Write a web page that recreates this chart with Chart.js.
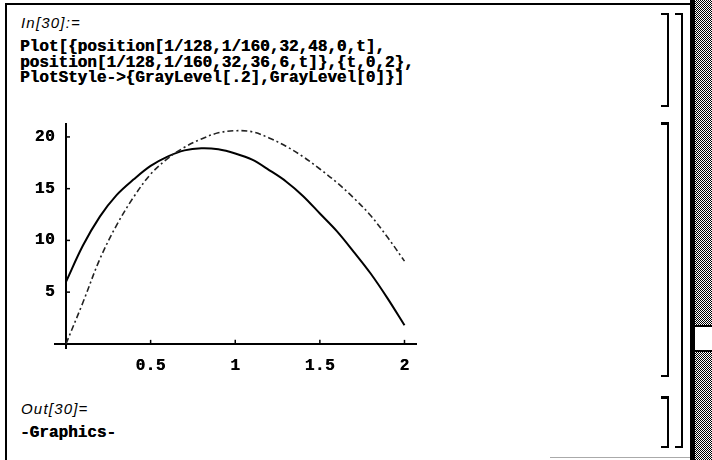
<!DOCTYPE html>
<html>
<head>
<meta charset="utf-8">
<script src="https://cdn.jsdelivr.net/npm/chart.js@4/dist/chart.umd.min.js"></script>
<style>
  html, body { margin:0; padding:0; background:#fff; }
  #page { position:relative; width:712px; height:460px; overflow:hidden; background:#fff; }
  .abs { position:absolute; }
  .lbl { font-family:"Liberation Sans", sans-serif; font-style:italic; font-size:15px; letter-spacing:1.2px; color:#000; }
  .code { font-family:"Liberation Mono", monospace; font-weight:bold; font-size:16px; color:#000; line-height:15.5px; white-space:pre; text-shadow:0.4px 0 0 #000; }
  .vline { position:absolute; background:#000; }
  .hline { position:absolute; background:#000; }
  #scroll { position:absolute; left:695px; top:0; width:17px; height:460px;
    background: repeating-conic-gradient(#000 0 25%, #fff 0 50%) 0 0/2px 2px; }
  #thumb { position:absolute; left:695px; top:325px; width:17px; height:27px; background:#fff; border-top:2px solid #000; border-bottom:2px solid #000; box-sizing:border-box; }
  canvas { position:absolute; left:0; top:0; }
</style>
</head>
<body>
<div id="page">
  <!-- window frame -->
  <div class="hline" style="left:5px; top:3px; width:686px; height:2px;"></div>
  <div class="vline" style="left:5px; top:3px; width:2px; height:457px;"></div>
  <div class="vline" style="left:690px; top:0; width:5px; height:460px;"></div>
  <div id="scroll"></div>
  <div id="thumb"></div>
  <div class="hline" style="left:550px; top:457px; width:140px; height:1px; background:#aaa;"></div>

  <!-- input cell -->
  <div class="abs lbl" style="left:21px; top:14px;">In[30]:=</div>
  <div class="abs code" style="left:20px; top:40px;">Plot[{position[1/128,1/160,32,48,0,t],
position[1/128,1/160,32,36,6,t]},{t,0,2},
PlotStyle->{GrayLevel[.2],GrayLevel[0]}]</div>

  <!-- output cell -->
  <div class="abs lbl" style="left:21px; top:400px;">Out[30]=</div>
  <div class="abs code" style="left:20px; top:426px;">-Graphics-</div>

  <!-- cell brackets -->
  <div class="vline" style="left:667px; top:13px; width:2px; height:94px;"></div>
  <div class="hline" style="left:661px; top:13px; width:8px; height:2px;"></div>
  <div class="hline" style="left:661px; top:105px; width:8px; height:2px;"></div>

  <div class="vline" style="left:667px; top:122px; width:2px; height:255px;"></div>
  <div class="hline" style="left:661px; top:122px; width:8px; height:3px;"></div>
  <div class="hline" style="left:661px; top:375px; width:8px; height:2px;"></div>

  <div class="vline" style="left:667px; top:396px; width:2px; height:52px;"></div>
  <div class="hline" style="left:661px; top:396px; width:8px; height:3px;"></div>
  <div class="hline" style="left:661px; top:446px; width:8px; height:2px;"></div>

  <div class="vline" style="left:681px; top:13px; width:2px; height:435px;"></div>
  <div class="hline" style="left:675px; top:13px; width:8px; height:2px;"></div>
  <div class="hline" style="left:675px; top:446px; width:8px; height:2px;"></div>

  <canvas id="c" width="712" height="460"></canvas>
</div>
<script>
// ---- data ----
const tValues = [0,0.1,0.2,0.3,0.4,0.5,0.6,0.7,0.8,0.9,1.0,1.1,1.2,1.3,1.4,1.5,1.6,1.7,1.8,1.9,2.0];
const angle48Values = [0,4.0,8.2,11.5,14.2,16.4,17.9,19.0,19.8,20.4,20.6,20.5,19.9,19.1,18.1,16.9,15.6,14.1,12.4,10.3,8.0];
const angle36Values = [6.0,9.5,12.3,14.4,15.9,17.2,18.1,18.7,18.9,18.8,18.4,17.8,16.8,15.7,14.3,12.6,10.9,8.9,6.8,4.4,1.8];
const xTickValues = [0.5,1,1.5,2];
const xTickLabels = ["0.5","1","1.5","2"];
const yTickValues = [5,10,15,20];
const yTickLabels = ["5","10","15","20"];

const toPts = (ys) => tValues.map((t,i) => ({x:t, y:ys[i]}));

// tick marks and tick labels drawn through the chart's own scales
const axisDecor = {
  id:'axisDecor',
  afterDraw(chart){
    const {ctx, scales:{x, y}} = chart;
    const x0 = x.getPixelForValue(0), y0 = y.getPixelForValue(0);
    ctx.save();
    ctx.strokeStyle = '#000';
    ctx.lineWidth = 1.5;
    xTickValues.forEach(v => { const px = x.getPixelForValue(v); ctx.beginPath(); ctx.moveTo(px, y0); ctx.lineTo(px, y0-4); ctx.stroke(); });
    yTickValues.forEach(v => { const py = y.getPixelForValue(v); ctx.beginPath(); ctx.moveTo(x0, py); ctx.lineTo(x0+4, py); ctx.stroke(); });
    ctx.fillStyle = '#000';
    ctx.font = 'bold 16px "Liberation Mono"';
    try { ctx.letterSpacing = '0.5px'; } catch(e) {}
    ctx.textAlign = 'center'; ctx.textBaseline = 'middle';
    xTickValues.forEach((v,i) => { const px = x.getPixelForValue(v); ctx.fillText(xTickLabels[i], px, y0 + 22); ctx.fillText(xTickLabels[i], px+0.5, y0 + 22); });
    ctx.textAlign = 'right';
    yTickValues.forEach((v,i) => { const py = y.getPixelForValue(v); ctx.fillText(yTickLabels[i], x0 - 11, py); ctx.fillText(yTickLabels[i], x0 - 10.5, py); });
    ctx.restore();
  }
};

new Chart(document.getElementById('c'), {
  type:'line',
  data:{
    datasets:[
      { data: toPts(angle48Values), borderColor:'#222', borderWidth:1.6, borderDash:[6,3,2,3], pointRadius:0, tension:0.35, fill:false },
      { data: toPts(angle36Values), borderColor:'#000', borderWidth:2, pointRadius:0, tension:0.35, fill:false }
    ]
  },
  options:{
    responsive:false, animation:false, devicePixelRatio:1,
    layout:{ padding:{ left:55, right:296, top:124, bottom:112 } },
    plugins:{ legend:{display:false}, tooltip:{enabled:false} },
    scales:{
      x:{
        type:'linear', min:-0.065, max:2.068, position:{ y:0 },
        afterBuildTicks:(s)=>{ s.ticks = xTickValues.map(v=>({value:v})); },
        ticks:{ display:false },
        grid:{ drawOnChartArea:false, drawTicks:false },
        border:{ display:true, color:'#000', width:2 }
      },
      y:{
        type:'linear', min:-0.4, max:21.25, position:{ x:0 },
        afterBuildTicks:(s)=>{ s.ticks = yTickValues.map(v=>({value:v})); },
        ticks:{ display:false },
        grid:{ drawOnChartArea:false, drawTicks:false },
        border:{ display:true, color:'#000', width:2 }
      }
    }
  },
  plugins:[axisDecor]
});
</script>
</body>
</html>
